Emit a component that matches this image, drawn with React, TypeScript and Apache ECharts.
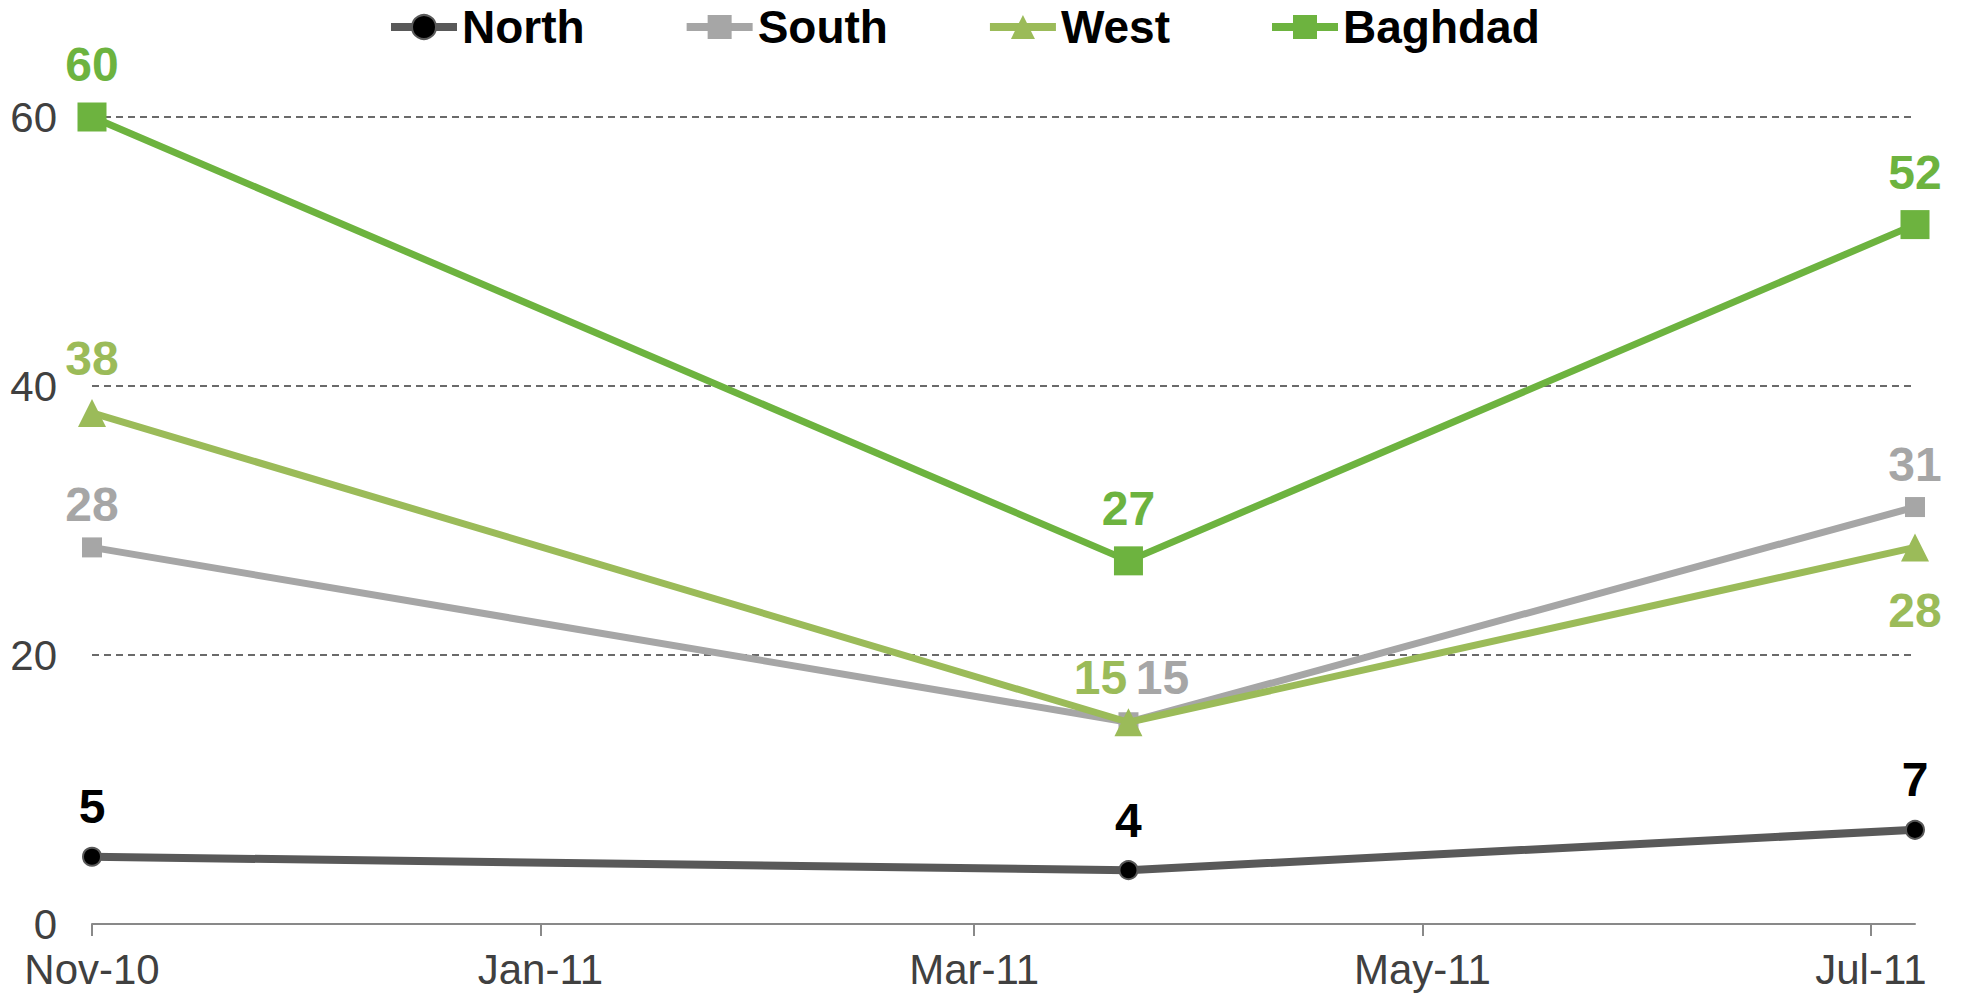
import React, { useEffect, useRef } from "react";
import * as echarts from "echarts";

const dates = ["2010-11-01", "2011-03-22", "2011-07-07"];
const north = [5, 4, 7];
const south = [28, 15, 31];
const west = [38, 15, 28];
const baghdad = [60, 27, 52];
const monthNames = ["Jan", "Feb", "Mar", "Apr", "May", "Jun", "Jul", "Aug", "Sep", "Oct", "Nov", "Dec"];
const yTicks = { min: 0, max: 60, interval: 20 };

const FONT = "Liberation Sans, Arial, sans-serif";

export default function App() {
  const ref = useRef<HTMLDivElement>(null);
  useEffect(() => {
    if (!ref.current) return;
    const chart = echarts.init(ref.current, undefined, { renderer: "svg" });
    const pair = (vals: number[]) => vals.map((v, i) => [dates[i], v]);
    const labelBase = {
      show: true,
      position: "top",
      fontFamily: FONT,
      fontWeight: "bold",
      fontSize: 48,
    };
    chart.setOption({
      animation: false,
      textStyle: { fontFamily: FONT },
      legend: {
        top: 4,
        left: 387,
        padding: 0,
        itemWidth: 66,
        itemHeight: 30,
        itemGap: 98,
        lineStyle: { width: 8 },
        textStyle: { fontFamily: FONT, fontWeight: "bold", fontSize: 46, color: "#000" },
        data: ["North", "South", "West", "Baghdad"],
      },
      grid: { left: 92, right: 46, top: 117, bottom: 69, containLabel: false },
      xAxis: {
        type: "time",
        min: dates[0],
        max: dates[dates.length - 1],
        splitNumber: 3,
        axisLine: { lineStyle: { color: "#898989", width: 2 } },
        axisTick: { show: true, length: 12, lineStyle: { color: "#898989", width: 2 } },
        splitLine: { show: false },
        axisLabel: {
          fontFamily: FONT,
          fontSize: 42,
          color: "#404040",
          margin: 24,
          formatter: (val: number) => {
            const d = new Date(val);
            return monthNames[d.getMonth()] + "-" + String(d.getFullYear()).slice(2);
          },
        },
      },
      yAxis: {
        type: "value",
        min: yTicks.min,
        max: yTicks.max,
        interval: yTicks.interval,
        axisLine: { show: false },
        axisTick: { show: false },
        axisLabel: { fontFamily: FONT, fontSize: 42, color: "#404040", margin: 35 },
        splitLine: { show: true, lineStyle: { color: "#3a3a3a", type: [7, 5], width: 1.5 } },
      },
      series: [
        {
          name: "North",
          type: "line",
          data: pair(north),
          symbol: "circle",
          symbolSize: 18,
          itemStyle: { color: "#000000", borderColor: "#595959", borderWidth: 2 },
          lineStyle: { color: "#595959", width: 8 },
          label: { ...labelBase, color: "#000000", distance: 16 },
          z: 2,
        },
        {
          name: "South",
          type: "line",
          data: pair(south),
          symbol: "rect",
          symbolSize: 20,
          itemStyle: { color: "#A6A6A6" },
          lineStyle: { color: "#A6A6A6", width: 7 },
          label: { ...labelBase, color: "#A6A6A6", distance: 9 },
          labelLayout: (p: any) => (p.dataIndex === 1 ? { dx: 34, dy: -2 } : {}),
          z: 3,
        },
        {
          name: "West",
          type: "line",
          data: pair(west),
          symbol: "triangle",
          symbolSize: 28,
          itemStyle: { color: "#9BBB59" },
          lineStyle: { color: "#9BBB59", width: 7 },
          label: { ...labelBase, color: "#9BBB59", distance: 16 },
          labelLayout: (p: any) => {
            if (p.dataIndex === 1) return { dx: -28, dy: 9 };
            if (p.dataIndex === 2) return { dy: 117 };
            return {};
          },
          z: 4,
        },
        {
          name: "Baghdad",
          type: "line",
          data: pair(baghdad),
          symbol: "rect",
          symbolSize: 29,
          itemStyle: { color: "#6DB33F" },
          lineStyle: { color: "#6DB33F", width: 7 },
          label: { ...labelBase, color: "#6DB33F", distance: 14 },
          z: 5,
        },
      ],
    });
    return () => chart.dispose();
  }, []);
  return (
    <div
      ref={ref}
      style={{ position: "fixed", left: 0, top: 0, width: "1961px", height: "993px", background: "#fff" }}
    />
  );
}
